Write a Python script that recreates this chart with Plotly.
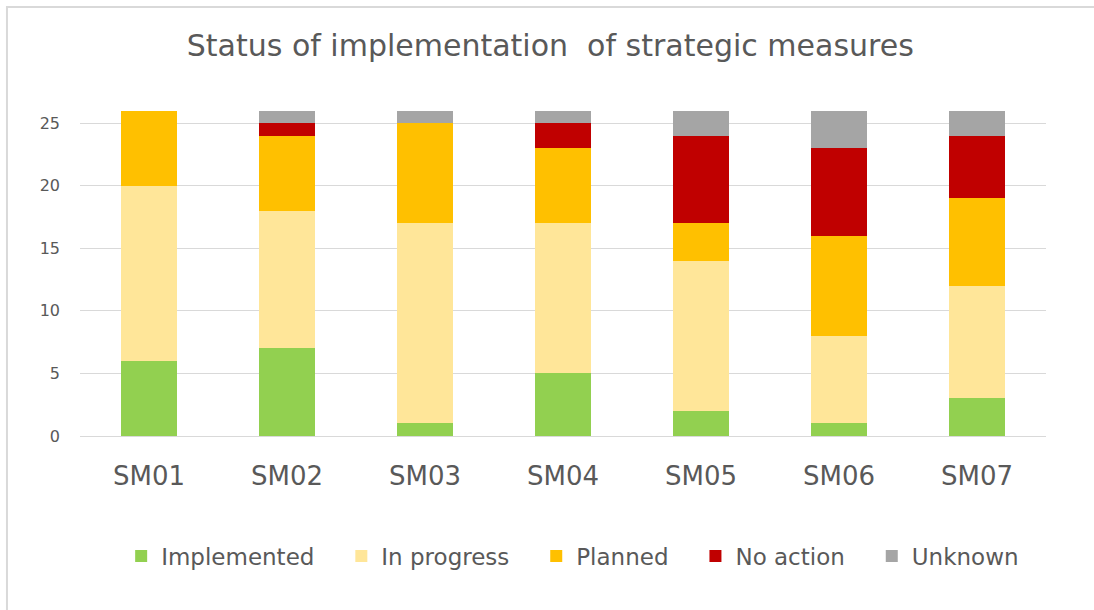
import plotly.graph_objects as go

categories = ["SM01", "SM02", "SM03", "SM04", "SM05", "SM06", "SM07"]
implemented = [6, 7, 1, 5, 2, 1, 3]
in_progress = [14, 11, 16, 12, 12, 7, 9]
planned = [6, 6, 8, 6, 3, 8, 7]
no_action = [0, 1, 0, 2, 7, 7, 5]
unknown = [0, 1, 1, 1, 2, 3, 2]

series_names = ["Implemented", "In progress", "Planned", "No action", "Unknown"]
series_values = [implemented, in_progress, planned, no_action, unknown]
series_colors = ["#92D050", "#FFE699", "#FFC000", "#C00000", "#A5A5A5"]

fig = go.Figure()
for i, (name, vals, color) in enumerate(zip(series_names, series_values, series_colors)):
    pad = "\u00a0\u00a0\u00a0" if i < len(series_names) - 1 else ""
    fig.add_trace(go.Bar(x=categories, y=vals, name=name + pad, marker_color=color,
                         marker_line_width=0))

font_family = "DejaVu Sans, Open Sans, sans-serif"
fig.update_layout(
    barmode="stack",
    bargap=0.6,
    width=1094, height=610,
    margin=dict(l=80, r=48, t=98, b=174),
    paper_bgcolor="white", plot_bgcolor="white",
    font=dict(family=font_family, color="#595959"),
    title=dict(text="Status of implementation  of strategic measures",
               x=0.503, xanchor="center", y=0.926, yanchor="middle",
               font=dict(size=30, color="#595959")),
    xaxis=dict(tickfont=dict(size=26, color="#595959"), showline=True,
               linecolor="#D9D9D9", linewidth=1, ticks="", ticklabelstandoff=17),
    yaxis=dict(range=[0, 27], tickvals=[0, 5, 10, 15, 20, 25],
               tickfont=dict(size=16, color="#595959"), gridcolor="#D9D9D9",
               zeroline=False, ticks="", ticklabelstandoff=19),
    legend=dict(orientation="h", x=0.51, xanchor="center", y=-0.355, yanchor="middle",
                font=dict(size=23, color="#595959"), traceorder="normal",
                itemwidth=30),
    shapes=[dict(type="rect", xref="paper", yref="paper", x0=-0.0756, x1=1.07,
                 y0=-0.55, y1=1.269, line=dict(color="#D9D9D9", width=2))],
)
fig.write_html("out.html", config={"displayModeBar": False},
               post_script="document.body.style.margin='0';")
